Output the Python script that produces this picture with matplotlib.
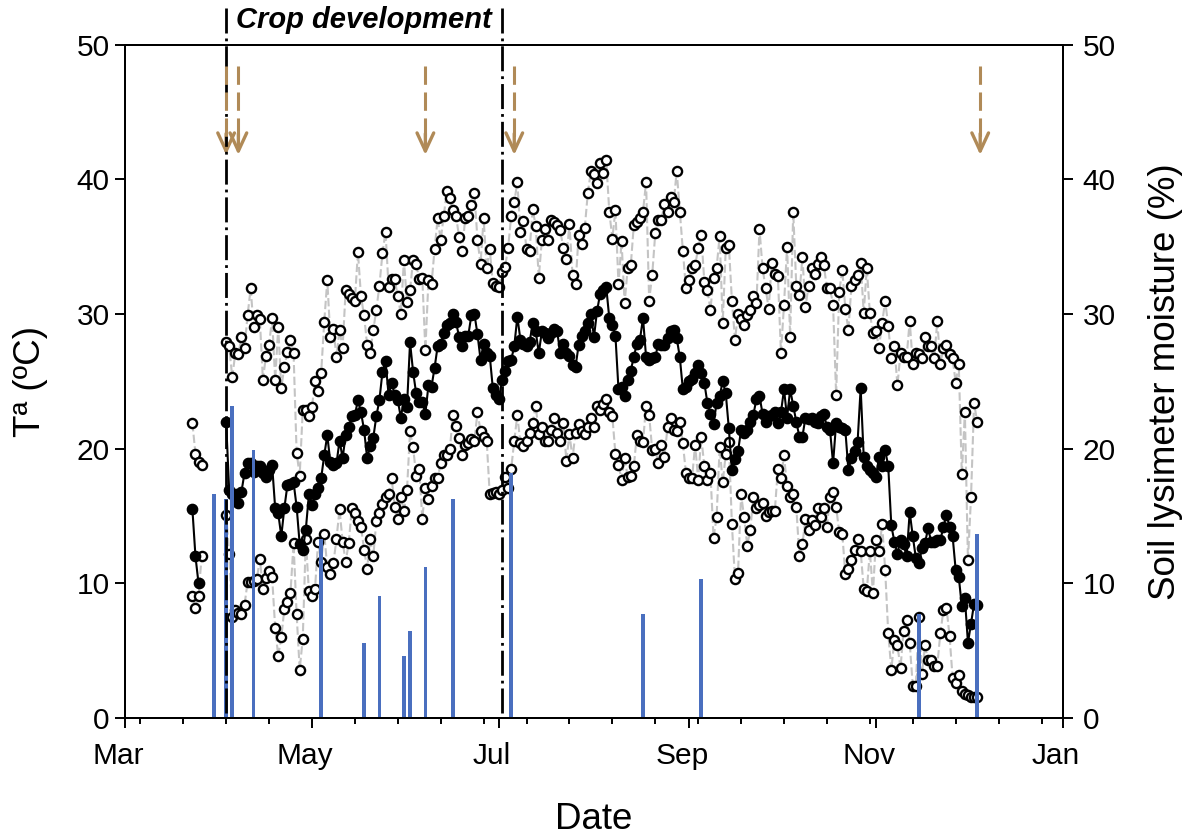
import numpy as np
import pandas as pd
import matplotlib
matplotlib.use("Agg")
import matplotlib.pyplot as plt
import matplotlib.dates as mdates
from matplotlib.ticker import FixedLocator
from matplotlib.transforms import ScaledTranslation, blended_transform_factory

plt.rcParams['font.family'] = ['Liberation Sans', 'DejaVu Sans']

# first logger block, Mar 23 - Mar 26
early_start = '2019-03-23'
t_max_early = [21.9, 19.6, 19.0, 18.8]
t_mean_early = [15.5, 12.0, 10.0, np.nan]
t_min_early = [9.1, 8.2, 9.1, 12.0]

# daily air temperature, Apr 3 - Dec 4
start = '2019-04-03'
t_max = [
    27.9, 27.6, 25.3, 27.1, 27.0, 28.3, 27.5, 29.9, 31.9, 29.0,
    29.9, 29.6, 25.1, 26.9, 27.7, 29.7, 25.1, 29.0, 24.5, 26.1,
    27.2, 28.1, 27.1, 19.7, 18.0, 22.9, 22.9, 22.4, 23.1, 25.0,
    24.3, 25.6, 29.4, 32.5, 28.3, 28.9, 26.8, 28.8, 27.5, 31.8,
    31.5, 31.2, 31.0, 34.6, 31.3, 29.9, 27.7, 27.1, 28.8, 30.3,
    32.1, 34.5, 36.1, 32.0, 32.6, 32.6, 31.3, 30.0, 34.0, 30.9,
    31.8, 34.0, 33.7, 32.6, 32.7, 27.3, 32.5, 32.2, 34.8, 37.1,
    35.5, 37.3, 39.1, 38.6, 37.7, 37.3, 35.7, 34.7, 37.1, 37.3,
    38.1, 39.0, 35.5, 33.7, 37.1, 33.4, 34.8, 32.3, 32.1, 32.0,
    33.1, 33.5, 34.9, 37.3, 38.3, 39.8, 36.1, 36.9, 34.8, 34.7,
    37.8, 36.5, 32.7, 35.5, 36.3, 35.5, 37.0, 36.8, 36.6, 36.2,
    34.9, 34.1, 36.7, 32.9, 32.2, 35.9, 35.2, 36.4, 39.0, 40.6,
    40.4, 39.7, 41.2, 40.5, 41.4, 37.6, 35.6, 37.7, 32.2, 35.4,
    30.8, 33.4, 33.6, 36.6, 36.8, 37.1, 37.6, 39.8, 31.0, 32.9,
    36.0, 37.0, 37.0, 38.2, 37.6, 38.7, 38.3, 40.6, 37.6, 34.7,
    31.9, 32.5, 33.4, 33.6, 34.9, 35.9, 32.4, 31.8, 30.3, 32.7,
    33.4, 35.8, 29.3, 34.9, 35.1, 31.0, 28.1, 30.0, 29.6, 29.2,
    29.9, 30.3, 31.3, 30.8, 36.3, 33.4, 31.9, 30.4, 33.8, 33.0,
    32.8, 27.1, 30.7, 35.0, 28.3, 37.6, 32.1, 31.4, 34.2, 30.5,
    32.1, 33.4, 33.0, 33.7, 34.2, 33.6, 31.9, 31.9, 30.7, 24.0,
    31.6, 33.3, 30.4, 28.8, 32.1, 32.5, 32.9, 33.8, 30.1, 33.4,
    30.1, 28.6, 28.7, 27.5, 29.3, 31.0, 29.1, 26.7, 27.6, 24.7,
    27.1, 26.8, 26.8, 29.5, 26.3, 27.1, 27.0, 26.7, 28.3, 27.6,
    27.6, 26.7, 29.5, 26.3, 27.5, 27.7, 27.0, 26.7, 24.9, 26.3,
    18.1, 22.7, 11.7, 16.4, 23.4, 22.0,
]
t_mean = [
    22.0, 16.9, 16.6, 16.6, 16.0, 16.8, 18.2, 18.9, 18.9, 18.3,
    18.7, 18.7, 18.2, 17.9, 18.4, 18.8, 15.6, 15.2, 13.5, 15.6,
    17.3, 17.4, 17.5, 15.7, 12.9, 12.5, 14.0, 16.6, 15.8, 16.6,
    17.1, 17.8, 19.5, 21.0, 19.0, 18.8, 18.9, 20.6, 19.3, 21.0,
    21.6, 22.4, 22.5, 23.6, 22.7, 21.4, 19.3, 20.2, 20.8, 22.4,
    23.6, 25.7, 26.5, 24.0, 24.9, 24.0, 23.6, 22.3, 23.7, 23.1,
    27.9, 25.7, 24.1, 23.5, 23.5, 22.6, 24.7, 24.6, 26.0, 27.6,
    27.8, 28.6, 29.2, 29.3, 30.0, 29.4, 28.3, 27.6, 28.4, 28.4,
    29.9, 30.0, 28.5, 26.6, 27.8, 27.1, 26.9, 24.5, 24.0, 23.7,
    25.1, 25.8, 26.5, 26.6, 27.6, 29.8, 28.1, 27.8, 27.6, 27.9,
    29.3, 28.7, 27.1, 28.7, 28.6, 28.2, 28.6, 28.9, 28.7, 27.1,
    27.8, 27.1, 26.9, 26.2, 26.1, 27.7, 28.4, 28.7, 29.3, 30.0,
    28.3, 30.2, 31.5, 31.8, 32.0, 29.7, 29.2, 28.4, 24.4, 24.6,
    23.9, 25.1, 25.8, 26.8, 27.8, 28.1, 29.7, 26.8, 26.6, 26.7,
    26.8, 27.8, 27.7, 27.7, 28.2, 28.7, 28.8, 28.2, 26.8, 24.4,
    24.6, 25.0, 25.2, 25.6, 26.2, 25.6, 24.9, 23.4, 22.6, 21.8,
    23.4, 23.9, 25.0, 24.1, 21.5, 18.4, 19.2, 19.8, 21.4, 21.2,
    21.4, 22.0, 22.5, 23.7, 23.9, 22.6, 22.0, 22.4, 22.5, 22.7,
    21.9, 22.7, 24.4, 22.3, 24.4, 23.2, 22.0, 20.9, 20.9, 22.3,
    22.2, 22.3, 22.0, 21.9, 22.4, 22.6, 21.6, 21.4, 18.9, 21.9,
    21.6, 21.5, 21.4, 18.4, 19.3, 19.8, 20.5, 24.5, 19.4, 18.7,
    18.4, 18.2, 17.9, 19.4, 18.7, 19.9, 18.7, 14.3, 13.1, 12.2,
    13.2, 12.9, 12.0, 15.3, 13.5, 11.9, 11.5, 12.6, 13.0, 14.1,
    13.1, 13.1, 13.2, 13.2, 14.2, 15.1, 14.2, 13.5, 11.0, 10.5,
    8.3, 8.9, 5.6, 7.0, 8.5, 8.4,
]
t_min = [
    15.1, 12.2, 7.5, 8.0, 7.8, 7.7, 8.4, 10.1, 10.1, 10.2,
    10.3, 11.8, 9.6, 10.4, 10.9, 10.5, 6.7, 4.6, 6.0, 8.1,
    8.6, 9.3, 13.0, 7.7, 3.6, 5.9, 13.3, 9.4, 9.1, 9.6,
    13.1, 11.6, 13.7, 11.2, 10.7, 11.5, 13.3, 15.5, 13.1, 11.6,
    13.0, 15.6, 15.2, 14.6, 14.2, 12.5, 11.1, 13.3, 12.0, 14.6,
    15.2, 15.9, 16.4, 16.6, 17.8, 15.7, 14.8, 16.4, 15.4, 16.9,
    21.3, 20.1, 18.0, 18.5, 14.8, 17.1, 16.3, 17.2, 17.8, 17.8,
    18.9, 19.5, 19.5, 20.0, 22.5, 21.7, 20.8, 19.5, 20.3, 20.4,
    20.7, 20.6, 22.7, 21.3, 20.9, 20.6, 16.6, 16.7, 16.8, 16.6,
    16.9, 17.9, 17.1, 18.5, 20.6, 22.5, 20.4, 20.2, 20.6, 21.2,
    21.9, 23.2, 21.1, 21.6, 20.6, 20.6, 21.4, 22.3, 21.2, 20.6,
    21.9, 19.1, 21.1, 19.3, 21.2, 21.8, 21.3, 21.1, 21.6, 22.3,
    21.6, 23.2, 22.9, 23.3, 23.7, 22.7, 22.4, 19.6, 18.8, 17.7,
    19.3, 17.9, 18.0, 18.7, 21.0, 20.6, 20.5, 23.2, 22.5, 19.9,
    20.0, 18.9, 20.3, 19.4, 21.6, 22.3, 21.4, 21.3, 22.0, 20.4,
    18.2, 17.8, 17.8, 20.3, 17.7, 20.9, 18.7, 17.7, 18.2, 13.4,
    14.9, 20.1, 17.5, 19.6, 20.5, 14.4, 10.3, 10.8, 16.6, 14.9,
    12.8, 14.0, 16.4, 15.6, 15.8, 16.0, 15.0, 15.3, 15.4, 15.4,
    18.5, 17.8, 19.5, 17.2, 16.4, 16.6, 15.7, 12.0, 12.9, 14.8,
    14.0, 14.7, 14.3, 15.6, 14.9, 15.6, 14.2, 16.4, 16.8, 15.7,
    13.8, 13.7, 10.7, 11.1, 11.7, 12.5, 13.3, 12.4, 9.6, 9.4,
    12.4, 9.3, 13.2, 12.4, 14.4, 11.0, 6.3, 3.6, 5.8, 5.4,
    3.7, 6.5, 7.3, 5.6, 2.4, 2.4, 7.5, 3.3, 5.4, 4.3,
    4.3, 3.9, 3.9, 6.3, 8.0, 8.2, 6.1, 3.0, 2.6, 3.2,
    2.0, 1.8, 1.7, 1.6, 1.6, 1.6,
]

# water inputs, right axis
event_dates = ['2019-03-30', '2019-04-03', '2019-04-05', '2019-04-12', '2019-05-04',
               '2019-05-18', '2019-05-23', '2019-05-31', '2019-06-02', '2019-06-07',
               '2019-06-16', '2019-07-05', '2019-08-17', '2019-09-05', '2019-11-15',
               '2019-12-04']
event_values = [16.6, 16.3, 23.2, 19.9, 13.3, 5.6, 9.1, 4.6, 6.5, 11.2,
                16.3, 18.2, 7.7, 10.3, 7.7, 13.7]

# field operations and crop development window
arrow_dates = ['2019-04-03', '2019-04-07', '2019-06-07', '2019-07-06', '2019-12-05']
phase_dates = ['2019-04-03', '2019-07-02']

# one continuous daily index, with a logger gap between the blocks
gap = pd.date_range('2019-03-27', '2019-04-02')
dates = pd.date_range(early_start, '2019-12-04')
tmax = np.r_[t_max_early, [np.nan] * len(gap), t_max]
tmean = np.r_[t_mean_early, [np.nan] * len(gap), t_mean]
tmin = np.r_[t_min_early, [np.nan] * len(gap), t_min]

fig = plt.figure(figsize=(11.89, 8.38), dpi=100)
ax = fig.add_axes([0.1051, 0.1431, 0.7889, 0.8037])
ax2 = ax.twinx()

grey_dash = (0, (4, 1.6))
ax.plot(dates, tmax, color='#c4c4c4', lw=1.5, ls=grey_dash, zorder=1)
ax.plot(dates, tmin, color='#c4c4c4', lw=1.5, ls=grey_dash, zorder=1)
for s in (tmax, tmin):
    ax.plot(dates, s, ls='none', marker='o', ms=6.6, mfc='white', mec='black', mew=1.7, zorder=2)
ax.plot(dates, tmean, color='black', lw=1.5, marker='o', ms=7.4, mfc='black', mec='black', zorder=3)

ax2.bar(pd.to_datetime(event_dates), event_values, width=1.15, color='#4a6fbf', zorder=1)

# crop development window
trans = blended_transform_factory(ax2.transData, ax2.transAxes)
for d in pd.to_datetime(phase_dates):
    ax2.plot([d, d], [1.054, 0], transform=trans, clip_on=False, color='black',
             lw=2, ls=(0, (9, 1.8, 1, 1.8)), zorder=4)
mid = pd.to_datetime(phase_dates[0]) + (pd.to_datetime(phase_dates[1]) - pd.to_datetime(phase_dates[0])) / 2
ax2.text(mid, 1.0365, 'Crop development', transform=trans, ha='center', va='center',
         fontsize=21, fontweight='bold', fontstyle='italic')

brown = '#b08a57'
for d in pd.to_datetime(arrow_dates):
    ax2.plot([d, d], [48.4, 43.0], color=brown, lw=2.2, ls=(0, (6, 2.5)), zorder=4)
    ax2.annotate('', xy=(d, 41.6), xytext=(d, 43.6),
                 arrowprops=dict(arrowstyle='->,head_length=0.65,head_width=0.3',
                                 color=brown, lw=2.4, mutation_scale=20))

ax.set_xlim(pd.Timestamp('2019-03-01'), pd.Timestamp('2020-01-01'))
ax.set_ylim(0, 50)
ax2.set_ylim(0, 50)
ax.set_yticks(range(0, 51, 10))
ax2.set_yticks(range(0, 51, 10))

ax.xaxis.set_major_locator(mdates.MonthLocator(bymonth=[1, 3, 5, 7, 9, 11]))
ax.xaxis.set_major_formatter(mdates.DateFormatter('%b'))
minor_days = pd.date_range('2019-03-06', '2019-12-31', freq='14D')
ax.xaxis.set_minor_locator(FixedLocator(mdates.date2num(minor_days)))

for a in (ax, ax2):
    for sp in a.spines.values():
        sp.set_linewidth(1.4)
ax.tick_params(axis='both', which='major', direction='out', length=7, width=1.4, labelsize=21.5)
ax.tick_params(axis='x', which='minor', direction='out', length=4.5, width=1.4)
ax.tick_params(axis='x', which='major', pad=10)
ax.tick_params(axis='y', pad=4)
ax2.tick_params(axis='y', direction='out', length=7, width=1.4, labelsize=21.5, pad=7)

shift = ScaledTranslation(-7 / 100, 0, fig.dpi_scale_trans)
for t in ax.xaxis.get_major_ticks():
    t.label1.set_transform(t.label1.get_transform() + shift)

ax.set_xlabel('Date', fontsize=26.5, va='center')
ax.xaxis.set_label_coords(0.5, -0.151)
ax.set_ylabel('Tª (ºC)', fontsize=26.5, va='center')
ax.yaxis.set_label_coords(-0.101, 0.5)
ax2.set_ylabel('Soil lysimeter moisture (%)', fontsize=26.5, va='center', rotation=90)
ax2.yaxis.set_label_coords(1.109, 0.5)

fig.savefig('out.png', dpi=100)
